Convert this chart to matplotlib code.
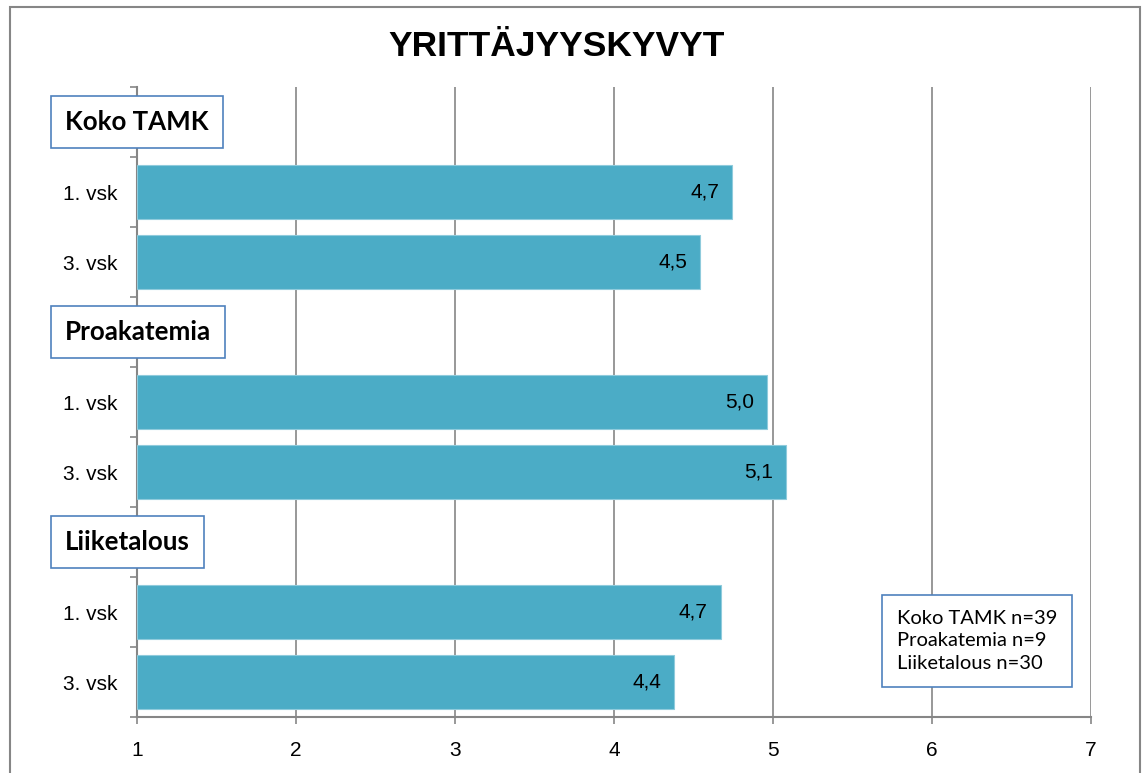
import numpy as np
import matplotlib.pyplot as plt
from matplotlib.patches import Rectangle

# ============================================================
# DATA
# ============================================================

groups = ["Koko TAMK", "Proakatemia", "Liiketalous"]
years = ["1. vsk", "3. vsk"]

values = [
    [4.74, 4.54],
    [4.96, 5.08],
    [4.67, 4.38],
]

value_labels = [
    ["4,7", "4,5"],
    ["5,0", "5,1"],
    ["4,7", "4,4"],
]

sample_sizes = ["Koko TAMK n=39", "Proakatemia n=9", "Liiketalous n=30"]

title = "YRITTÄJYYSKYVYT"

x_ticks = [1, 2, 3, 4, 5, 6, 7]

# ============================================================
# STYLE
# ============================================================

bar_color = "#4BACC6"
grid_color = "#868686"
box_color = "#4F81BD"

plt.rcParams["font.family"] = ["Liberation Sans", "DejaVu Sans"]

# ============================================================
# FIGURE
# ============================================================

fig = plt.figure(figsize=(11.42, 7.73), dpi=100)

ax = fig.add_axes([137 / 1142, 1 - 717 / 773, 954 / 1142, 630 / 773])

# row layout: header row + one row per year, per group
bar_pos = []
bar_val = []
bar_txt = []
tick_labels = []
header_pos = []

row = 0
for g, name in enumerate(groups):
    header_pos.append(row)
    row += 1
    for k, yr in enumerate(years):
        bar_pos.append(row)
        bar_val.append(values[g][k])
        bar_txt.append(value_labels[g][k])
        tick_labels.append(yr)
        row += 1

n_rows = row

bars = ax.barh(
    bar_pos,
    np.array(bar_val) - 1,
    left=1,
    height=0.77,
    color=bar_color,
    edgecolor="#8FCBDC",
    linewidth=0.8,
    zorder=3
)

for b, txt in zip(bars, bar_txt):
    ax.text(
        b.get_x() + b.get_width() - 0.08,
        b.get_y() + b.get_height() / 2,
        txt,
        ha="right",
        va="center",
        fontsize=15,
        color="black",
        zorder=4
    )

ax.set_xlim(1, 7)
ax.set_ylim(n_rows - 0.5, -0.5)

ax.set_xticks(x_ticks)
ax.set_xticklabels([str(v) for v in x_ticks], fontsize=15)

ax.set_yticks(bar_pos)
ax.set_yticklabels(tick_labels, fontsize=15)
ax.set_yticks(np.arange(n_rows + 1) - 0.5, minor=True)

ax.tick_params(axis="y", which="major", length=0, pad=14)
ax.tick_params(axis="y", which="minor", length=5, width=1.2, color=grid_color, direction="out")
ax.tick_params(axis="x", which="major", length=5, width=1.2, color=grid_color, direction="out", pad=12)

ax.grid(True, axis="x", color=grid_color, linewidth=1.2, zorder=0)

for side in ["top", "right"]:
    ax.spines[side].set_visible(False)

for side in ["left", "bottom"]:
    ax.spines[side].set_color(grid_color)
    ax.spines[side].set_linewidth(1.5)

# ============================================================
# GROUP HEADERS
# ============================================================

for name, pos in zip(groups, header_pos):
    y_disp = ax.transData.transform((1, pos))[1]
    fig.text(
        65 / 1142,
        y_disp / fig.bbox.height,
        name,
        ha="left",
        va="center",
        fontsize=18.6,
        fontweight="bold",
        family=["Lato", "DejaVu Sans"],
        bbox=dict(
            boxstyle="square,pad=0.55",
            facecolor="white",
            edgecolor=box_color,
            linewidth=1.2
        ),
        zorder=5
    )

# ============================================================
# SAMPLE SIZE BOX
# ============================================================

fig.text(
    897 / 1142,
    1 - 641 / 773,
    "\n".join(sample_sizes),
    ha="left",
    va="center",
    fontsize=14.5,
    linespacing=1.38,
    family=["Lato", "DejaVu Sans"],
    bbox=dict(
        boxstyle="square,pad=0.75",
        facecolor="white",
        edgecolor=box_color,
        linewidth=1.2
    ),
    zorder=5
)

# ============================================================
# TITLE + OUTER FRAME
# ============================================================

fig.text(
    557 / 1142,
    1 - 47 / 773,
    title,
    ha="center",
    va="center",
    fontsize=25.5,
    fontweight="bold"
)

fig.patches.append(
    Rectangle(
        (10 / 1142, -0.1),
        1130 / 1142,
        1.1 - 7 / 773,
        transform=fig.transFigure,
        fill=False,
        edgecolor=grid_color,
        linewidth=1.5
    )
)

fig.savefig("out.png", dpi=100)
